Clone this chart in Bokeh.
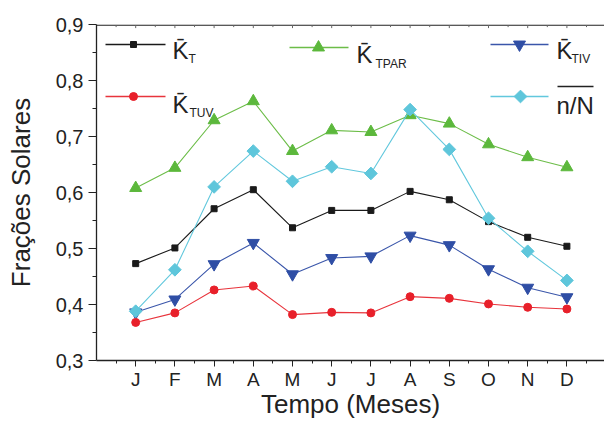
from bokeh.plotting import figure
from bokeh.models import FixedTicker, Range1d, Label, CustomJSTickFormatter
from bokeh.embed import file_html
from bokeh.resources import INLINE
import math

# ---------------- data ----------------
months = ["J", "F", "M", "A", "M", "J", "J", "A", "S", "O", "N", "D"]
month_pos = list(range(1, 13))
kt = [0.473, 0.501, 0.571, 0.605, 0.537, 0.568, 0.568, 0.602, 0.587, 0.548, 0.520, 0.504]
ktpar = [0.608, 0.644, 0.729, 0.763, 0.674, 0.711, 0.708, 0.738, 0.723, 0.686, 0.663, 0.645]
ktiv = [0.386, 0.409, 0.472, 0.510, 0.454, 0.483, 0.486, 0.523, 0.506, 0.463, 0.430, 0.413]
ktuv = [0.368, 0.385, 0.426, 0.433, 0.382, 0.386, 0.385, 0.414, 0.411, 0.401, 0.395, 0.392]
nN = [0.388, 0.462, 0.610, 0.674, 0.620, 0.646, 0.634, 0.748, 0.677, 0.554, 0.495, 0.443]
y_ticks = [0.3, 0.4, 0.5, 0.6, 0.7, 0.8, 0.9]

FONT = "Liberation Sans"
TXT = "#222222"

# layout constants (pixels)
FRAME_L, FRAME_T, FRAME_B, FRAME_R = 96, 24, 360, 604
UNIT_PX = 39.2
X_END = (FRAME_R - FRAME_L) / UNIT_PX
Y0, Y1 = 0.3, 0.9
PX_PER_Y = (FRAME_B - FRAME_T) / (Y1 - Y0)


def dx(px):
    return (px - FRAME_L) / UNIT_PX


def dy(py):
    return Y0 + (FRAME_B - py) / PX_PER_Y


p = figure(width=604, height=421, output_backend="svg", toolbar_location=None,
           x_range=Range1d(0, X_END), y_range=Range1d(Y0, Y1),
           min_border_left=FRAME_L, min_border_right=604 - FRAME_R, min_border_top=FRAME_T,
           min_border_bottom=421 - FRAME_B)
p.outline_line_color = None
p.xgrid.visible = False
p.ygrid.visible = False
p.background_fill_color = None
p.border_fill_color = "white"

# ---------------- axes ----------------
xax = p.xaxis[0]
xax.ticker = FixedTicker(ticks=month_pos, minor_ticks=[m - 0.5 for m in month_pos] + [12.5])
xax.major_label_overrides = {m: lab for m, lab in zip(month_pos, months)}
xax.axis_label = "Tempo (Meses)"
yax = p.yaxis[0]
yax.ticker = FixedTicker(ticks=y_ticks, minor_ticks=[t + 0.05 for t in y_ticks[:-1]])
yax.formatter = CustomJSTickFormatter(code="return tick.toFixed(1).replace('.', ',');")
yax.axis_label = "Frações Solares"

for ax in (xax, yax):
    ax.axis_line_width = 1.3
    ax.axis_line_color = "#222222"
    ax.major_tick_line_color = "#222222"
    ax.minor_tick_line_color = "#222222"
    ax.major_tick_in = 0
    ax.minor_tick_in = 0
    ax.major_label_text_font = FONT
    ax.major_label_text_color = TXT
    ax.axis_label_text_font = FONT
    ax.axis_label_text_color = TXT
    ax.axis_label_text_font_style = "normal"

xax.major_tick_out = 6
xax.minor_tick_out = 3
xax.major_label_standoff = 2
xax.major_label_text_font_size = "19px"
xax.axis_label_text_font_size = "26px"
xax.axis_label_standoff = -4

yax.major_tick_out = 8
yax.minor_tick_out = 4
yax.major_label_standoff = 5
yax.major_label_text_font_size = "20px"
yax.axis_label_text_font_size = "26px"
yax.axis_label_standoff = 17

# top frame line with small inward ticks
top_y = dy(FRAME_T + 0.6)
p.line([0, X_END], [top_y, top_y], line_color="#222222", line_width=1.3)
tick_x = [m - 0.5 for m in month_pos] + month_pos + [12.5]
tick_len = [2] * 12 + [3] * 12 + [2]
p.segment(x0=tick_x, y0=[top_y] * len(tick_x), x1=tick_x,
          y1=[top_y - t / PX_PER_Y for t in tick_len],
          line_color="#666666", line_width=1)

# ---------------- series ----------------
series = [
    (kt, "#1a1a1a", "#1a1a1a", "square", 6, 0),
    (ktpar, "#6cbd48", "#5cb83c", "triangle", 12, 0),
    (ktiv, "#3a56aa", "#2f4ea5", "inverted_triangle", 12, 0),
    (ktuv, "#e8343c", "#e8202a", "circle", 8, 0),
    (nN, "#62c8dd", "#5ec6db", "square", 9, math.pi / 4),
]
for vals, lc, mc, mk, sz, ang in series:
    p.line(month_pos, vals, line_color=lc, line_width=1.1)
    p.scatter(month_pos, vals, marker=mk, size=sz, angle=ang,
              fill_color=mc, line_color=mc)

# ---------------- legend (manual) ----------------
legend_items = [
    (105, 165, 44, 133, series[0]),
    (289, 348, 47, 318, series[1]),
    (490, 548, 44, 519, series[2]),
    (105, 165, 96, 133, series[3]),
    (490, 548, 96, 520, series[4]),
]
for x0, x1, yy, xm, (vals, lc, mc, mk, sz, ang) in legend_items:
    p.line([dx(x0), dx(x1)], [dy(yy), dy(yy)], line_color=lc, line_width=1.3)
    p.scatter([dx(xm)], [dy(yy)], marker=mk, size=sz, angle=ang,
              fill_color=mc, line_color=mc)

legend_texts = [
    ("K\u0304", 172, 50, "T", 188, 58),
    ("K\u0304", 356, 54, "TPAR", 375, 63),
    ("K\u0304", 556, 50, "TIV", 571, 58),
    ("K\u0304", 172, 104, "TUV", 189, 112),
]
for main, mx, mb, sub, sx, sb in legend_texts:
    p.add_layout(Label(x=dx(mx), y=dy(mb), text=main, text_font=FONT,
                       text_font_size="24px", text_color=TXT,
                       text_baseline="alphabetic", text_align="left"))
    p.add_layout(Label(x=dx(sx), y=dy(sb), text=sub, text_font=FONT,
                       text_font_size="12px", text_color=TXT,
                       text_baseline="alphabetic", text_align="left"))

p.add_layout(Label(x=dx(556), y=dy(105), text="n/N", text_font=FONT,
                   text_font_size="24px", text_color=TXT,
                   text_baseline="alphabetic", text_align="left"))
p.line([dx(557), dx(593)], [dy(86), dy(86)], line_color=TXT, line_width=1.6)

open("out.html", "w").write(file_html(p, INLINE))
